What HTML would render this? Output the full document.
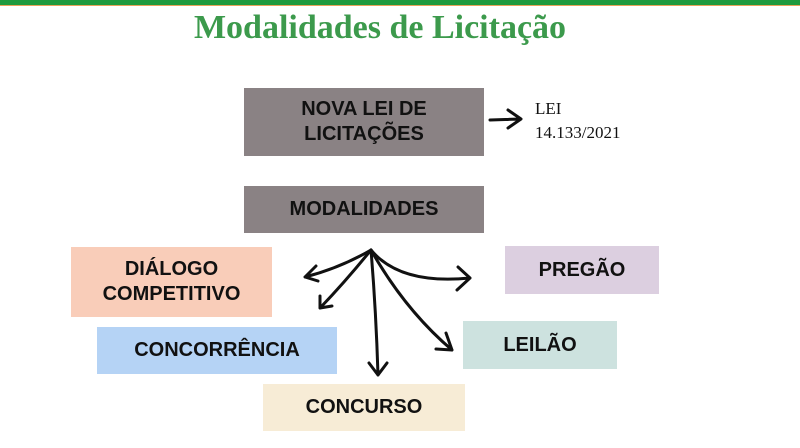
<!DOCTYPE html>
<html><head><meta charset="utf-8"><style>
body{margin:0;width:800px;height:448px;background:#fff;position:relative;overflow:hidden;font-family:"Liberation Sans",sans-serif}
.b{position:absolute;display:flex;align-items:center;justify-content:center;text-align:center;font-weight:bold;font-size:20px;color:#111;line-height:25px}
</style></head><body>
<div style="position:absolute;left:0;top:0;width:800px;height:5px;background:#1f9a3e"></div>
<div style="position:absolute;left:0;top:5px;width:800px;height:1px;background:#e9a35a"></div>
<div style="position:absolute;left:0;top:9px;width:760px;text-align:center;font-family:'Liberation Serif',serif;font-weight:bold;font-size:34px;color:#3c9a4c">Modalidades de Licitação</div>
<div class="b" style="left:244px;top:88px;width:240px;height:68px;background:#8a8284">NOVA LEI DE<br>LICITAÇÕES</div>
<div style="position:absolute;left:535px;top:97px;font-family:'Liberation Serif',serif;font-size:17px;line-height:24px;color:#111">LEI<br>14.133/2021</div>
<div class="b" style="left:244px;top:186px;width:240px;height:47px;background:#8a8284">MODALIDADES</div>
<div class="b" style="left:71px;top:247px;width:201px;height:70px;background:#f9cdb9">DIÁLOGO<br>COMPETITIVO</div>
<div class="b" style="left:97px;top:327px;width:240px;height:47px;background:#b5d3f5">CONCORRÊNCIA</div>
<div class="b" style="left:263px;top:384px;width:202px;height:47px;background:#f7ecd6">CONCURSO</div>
<div class="b" style="left:505px;top:246px;width:154px;height:48px;background:#dccfe0">PREGÃO</div>
<div class="b" style="left:463px;top:321px;width:154px;height:48px;background:#cde2df">LEILÃO</div>
<svg width="800" height="448" style="position:absolute;left:0;top:0" fill="none" stroke="#111" stroke-width="3" stroke-linecap="round" stroke-linejoin="round">
<path d="M490 120 L520 119 M508 110 L521 119 L508 128"/>
<path d="M371 250 Q340 268 305 277 M316 266 L305 277 L318 281"/>
<path d="M371 250 Q345 282 320 308 M320 296 L320 308 L332 306"/>
<path d="M371 250 Q376 310 378 375 M369 363 L378 375 L387 363"/>
<path d="M371 250 Q405 310 452 350 M446 333 L452 350 L436 349"/>
<path d="M371 250 Q400 285 470 278 M458 267 L470 278 L457 290"/>
</svg>
</body></html>
